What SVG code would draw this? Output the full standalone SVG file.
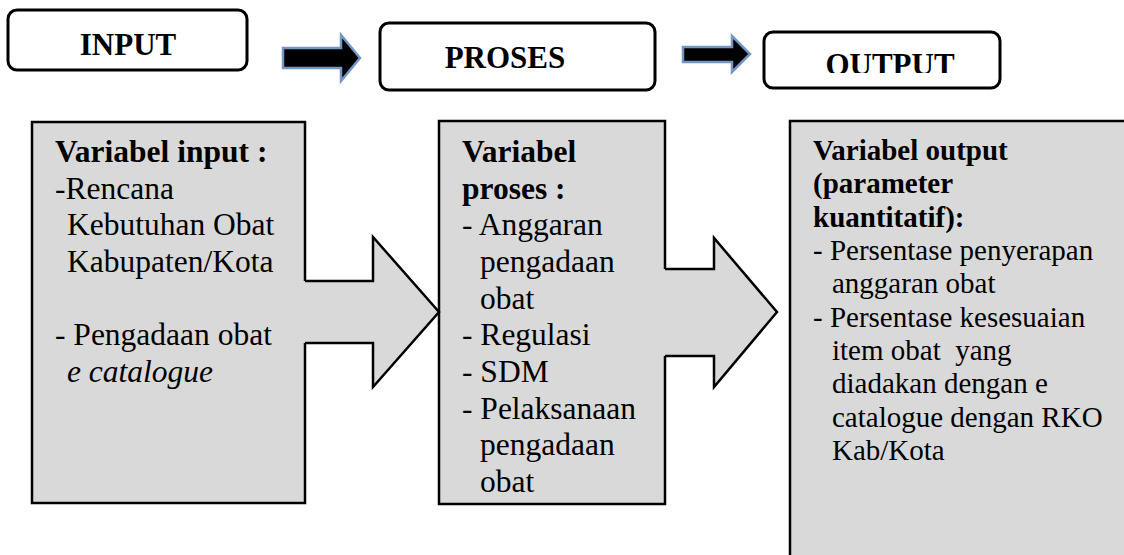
<svg xmlns="http://www.w3.org/2000/svg" width="1124" height="555" viewBox="0 0 1124 555">
<style>
.hdr{fill:#fff;stroke:#000;stroke-width:3}
.box{fill:#d9d9d9;stroke:#000;stroke-width:2.5}
.garrow{fill:#d9d9d9;stroke:#000;stroke-width:2.5;stroke-linejoin:miter}
.barrow{fill:#000;stroke:#7396c2;stroke-width:2.5}
.ht{font-family:"Liberation Serif",serif;font-weight:bold;font-size:31px;text-anchor:middle}
.t{font-family:"Liberation Serif",serif;font-size:31.5px}
.ts{font-family:"Liberation Serif",serif;font-size:29px}
.b{font-weight:bold}
.i{font-style:italic}
</style>
<defs>
<clipPath id="clipOut"><rect x="760" y="30" width="260" height="43"/></clipPath>
</defs>
<g id="node-input-header">
<rect class="hdr" x="8" y="10" width="239" height="60" rx="9"/>
<text class="ht" x="128" y="55">INPUT</text>
</g>
<g id="node-proses-header">
<rect class="hdr" x="380" y="23" width="275" height="67" rx="9"/>
<text class="ht" x="505" y="68">PROSES</text>
</g>
<g id="node-output-header">
<rect class="hdr" x="764" y="32" width="236" height="56" rx="9"/>
<text class="ht" x="890" y="75" clip-path="url(#clipOut)">OUTPUT</text>
</g>
<g id="node-input">
<rect class="box" x="32" y="122" width="273" height="381"/>
<text class="t"><tspan class="b" x="55" y="162">Variabel input :</tspan><tspan x="55" y="198.7">-Rencana</tspan><tspan x="67" y="235.3">Kebutuhan Obat</tspan><tspan x="67" y="272">Kabupaten/Kota</tspan><tspan x="55" y="345.3">- Pengadaan obat</tspan><tspan class="i" x="67" y="382">e catalogue</tspan></text>
</g>
<g id="node-proses">
<rect class="box" x="439" y="121" width="226" height="383"/>
<text class="t"><tspan class="b" x="462" y="162">Variabel</tspan><tspan class="b" x="462" y="198.7">proses :</tspan><tspan x="462" y="235.3">- Anggaran</tspan><tspan x="480" y="272">pengadaan</tspan><tspan x="480" y="308.7">obat</tspan><tspan x="462" y="345.3">- Regulasi</tspan><tspan x="462" y="382">- SDM</tspan><tspan x="462" y="418.7">- Pelaksanaan</tspan><tspan x="480" y="455.3">pengadaan</tspan><tspan x="480" y="492">obat</tspan></text>
</g>
<g id="node-output">
<rect class="box" x="790" y="121" width="340" height="440"/>
<text class="ts"><tspan class="b" x="813" y="160">Variabel output</tspan><tspan class="b" x="813" y="193.3">(parameter</tspan><tspan class="b" x="813" y="226.7">kuantitatif):</tspan><tspan x="813" y="260">- Persentase penyerapan</tspan><tspan x="832" y="293.3">anggaran obat</tspan><tspan x="813" y="326.7">- Persentase kesesuaian</tspan><tspan x="832" y="360" xml:space="preserve">item obat  yang</tspan><tspan x="832" y="393.3">diadakan dengan e</tspan><tspan x="832" y="426.7">catalogue dengan RKO</tspan><tspan x="832" y="460">Kab/Kota</tspan></text>
</g>
<g id="connectors">
<polygon class="barrow" points="283,48 341,48 341,35 360,58 341,81 341,68 283,68"/>
<polygon class="barrow" points="683,47 732,47 732,36 750,54 732,72 732,62 683,62"/>
<polygon fill="#d9d9d9" points="303,281 373,281 373,237 439,312 373,387 373,343 303,343"/>
<polyline class="garrow" fill="none" points="305,281 373,281 373,237 439,312 373,387 373,343 305,343"/>
<polygon fill="#d9d9d9" points="663,269 714,269 714,238 777,312 714,387 714,356 663,356"/>
<polyline class="garrow" fill="none" points="665,269 714,269 714,238 777,312 714,387 714,356 665,356"/>
</g>
</svg>
